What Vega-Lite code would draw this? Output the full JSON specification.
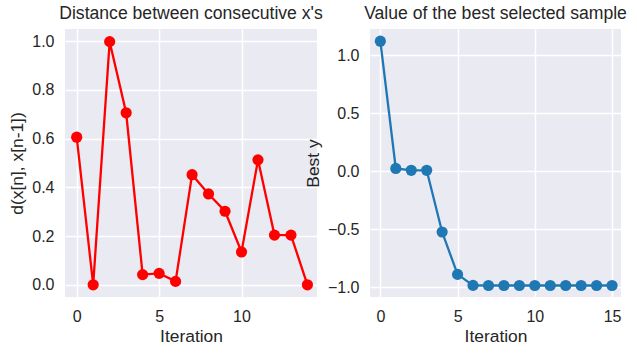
{
  "$schema": "https://vega.github.io/schema/vega-lite/v6.json",
  "padding": {"left": 8, "top": 5, "right": 5, "bottom": 5},
  "background": "white",
  "datasets": {
    "dist": [
      {"iteration": 0, "d": 0.606},
      {"iteration": 1, "d": 0.0},
      {"iteration": 2, "d": 0.998},
      {"iteration": 3, "d": 0.706},
      {"iteration": 4, "d": 0.042},
      {"iteration": 5, "d": 0.047},
      {"iteration": 6, "d": 0.014},
      {"iteration": 7, "d": 0.452},
      {"iteration": 8, "d": 0.373},
      {"iteration": 9, "d": 0.302},
      {"iteration": 10, "d": 0.135},
      {"iteration": 11, "d": 0.513},
      {"iteration": 12, "d": 0.204},
      {"iteration": 13, "d": 0.204},
      {"iteration": 14, "d": 0.0}
    ],
    "best": [
      {"iteration": 0, "y": 1.12},
      {"iteration": 1, "y": 0.023},
      {"iteration": 2, "y": 0.007},
      {"iteration": 3, "y": 0.007},
      {"iteration": 4, "y": -0.525},
      {"iteration": 5, "y": -0.89},
      {"iteration": 6, "y": -0.985},
      {"iteration": 7, "y": -0.986},
      {"iteration": 8, "y": -0.986},
      {"iteration": 9, "y": -0.986},
      {"iteration": 10, "y": -0.986},
      {"iteration": 11, "y": -0.986},
      {"iteration": 12, "y": -0.986},
      {"iteration": 13, "y": -0.986},
      {"iteration": 14, "y": -0.986},
      {"iteration": 15, "y": -0.986}
    ]
  },
  "config": {
    "font": "Liberation Sans",
    "view": {"fill": "#EAEAF2", "stroke": null},
    "title": {"fontSize": 17.6, "fontWeight": "normal", "color": "#262626", "offset": 6, "font": "Liberation Sans"},
    "axis": {
      "domain": false,
      "ticks": false,
      "grid": true,
      "gridColor": "white",
      "gridWidth": 1.5,
      "labelFontSize": 16,
      "labelColor": "#262626",
      "labelFont": "Liberation Sans",
      "titleFont": "Liberation Sans",
      "titleFontSize": 17.4,
      "titleFontWeight": "normal",
      "titleColor": "#262626",
      "labelPadding": 11
    },
    "axisX": {"titlePadding": 3},
    "axisY": {"titlePadding": 5}
  },
  "hconcat": [
    {
      "width": 252,
      "height": 268,
      "title": "Distance between consecutive x's",
      "data": {"name": "dist"},
      "mark": {"type": "line", "color": "#FF0000", "strokeWidth": 2.3, "point": {"filled": true, "size": 125, "color": "#FF0000", "opacity": 1}},
      "encoding": {
        "x": {"field": "iteration", "type": "quantitative", "title": "Iteration",
              "scale": {"domain": [-0.71, 14.58], "nice": false, "zero": false},
              "axis": {"values": [0, 5, 10], "format": "d"}},
        "y": {"field": "d", "type": "quantitative", "title": "d(x[n], x[n-1])",
              "scale": {"domain": [-0.05, 1.05], "nice": false, "zero": false},
              "axis": {"values": [0, 0.2, 0.4, 0.6, 0.8, 1.0], "format": ".1f"}}
      }
    },
    {
      "width": 251,
      "height": 268,
      "title": "Value of the best selected sample",
      "data": {"name": "best"},
      "mark": {"type": "line", "color": "#1f77b4", "strokeWidth": 2.3, "point": {"filled": true, "size": 125, "color": "#1f77b4", "opacity": 1}},
      "encoding": {
        "x": {"field": "iteration", "type": "quantitative", "title": "Iteration",
              "scale": {"domain": [-0.67, 15.58], "nice": false, "zero": false},
              "axis": {"values": [0, 5, 10, 15], "format": "d"}},
        "y": {"field": "y", "type": "quantitative", "title": "Best y",
              "scale": {"domain": [-1.085, 1.225], "nice": false, "zero": false},
              "axis": {"values": [-1, -0.5, 0, 0.5, 1.0], "format": ".1f"}}
      }
    }
  ],
  "spacing": 53,
  "bounds": "flush"
}
